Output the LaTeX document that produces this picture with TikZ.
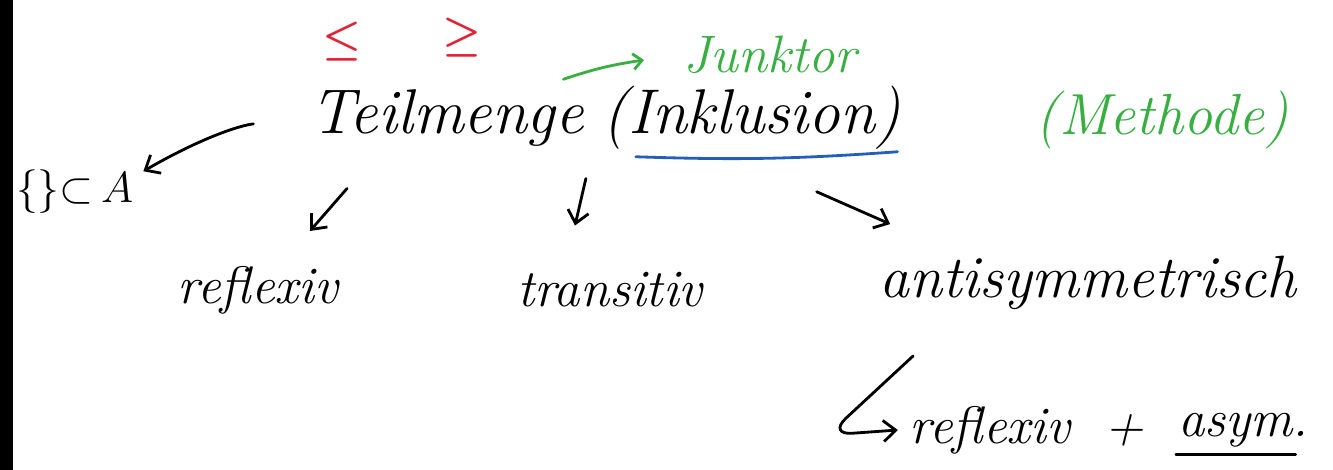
\documentclass[tikz,border=0pt]{standalone}
\usepackage{amsmath}
\usepackage{xcolor}
\usepackage{tikz}
\usetikzlibrary{arrows.meta, positioning}

\definecolor{inkred}{RGB}{225,35,55}
\definecolor{inkgreen}{RGB}{55,175,65}
\definecolor{inkblue}{RGB}{35,95,185}

\begin{document}
\begin{tikzpicture}[
      x=0.02cm, y=-0.02cm,
      every node/.style={inner sep=1pt, font=\itshape\fontsize{30}{36}\selectfont},
      big/.style={font=\itshape\fontsize{36}{42}\selectfont},
      sign/.style={text=inkred, font=\fontsize{48}{56}\selectfont\boldmath},
      hand/.style={line width=1.6pt, line cap=round},
      pen/.style={hand, -{Straight Barb[length=7pt, width=12pt]}}
    ]
      \useasboundingbox (0,0) rectangle (1333,470);

      \node[big] (teil) at (447,118) {Teilmenge};
      \node[big, right=0.3cm of teil] (inkl) {(Inklusion)};
      \node[sign] (leq) at (342,42) {$\leq$};
      \node[sign] (geq) at (462,38) {$\geq$};
      \node[text=inkgreen] (junk) at (770,55) {Junktor};
      \node[text=inkgreen, font=\itshape\fontsize{33}{40}\selectfont] (meth) at (1162,120) {(Methode)};
      \node[anchor=west, font=\fontsize{23}{28}\selectfont] (sub) at (14,192) {$\{\}{\subset}\,A$};

      \node (refl) at (258,290) {reflexiv};
      \node (trans) at (610,290) {transitiv};
      \node[font=\itshape\fontsize{34}{40}\selectfont] (anti) at (1088,283) {antisymmetrisch};
      \node (refl2) at (990,430) {reflexiv};
      \node[right=0.6cm of refl2] (plus) {+};
      \node[right=0.6cm of plus] (asym) {asym.};

      % arrows from the main term
      \draw[pen, shorten <=1.1cm, shorten >=2pt] (teil.west) to[bend right=12] ([xshift=0.1cm, yshift=-0.1cm]sub.north east);
      \draw[pen] ([xshift=-2cm, yshift=-0.8cm]teil.south) -- ([xshift=1.04cm, yshift=0.66cm]refl.north);
      \draw[pen] ([yshift=-0.6cm]teil.south east) -- ([xshift=-0.7cm, yshift=0.9cm]trans.north);
      \draw[pen] ([xshift=1.3cm, yshift=-0.8cm]inkl.south) -- ([xshift=0.26cm, yshift=0.6cm]anti.north west);
      \draw[pen, rounded corners=14pt] ([xshift=0.72cm, yshift=-0.88cm]anti.south west)
        -- ([xshift=-1.6cm, yshift=-0.1cm]refl2.west) -- ([xshift=-0.2cm]refl2.west);

      % green note and underlines
      \draw[pen, inkgreen, -{Straight Barb[length=5pt, width=9pt]}] ([xshift=-0.75cm, yshift=0.1cm]inkl.north west) to[bend left=5] ([xshift=-0.75cm, yshift=-0.1cm]junk.west);
      \draw[hand, inkblue] ([xshift=0.7cm, yshift=-0.1cm]inkl.south west) to[bend right=3] ([xshift=-0.1cm]inkl.south east);
      \draw[hand] ([yshift=-0.1cm]asym.south west) -- ([xshift=-0.3cm, yshift=-0.1cm]asym.south east);

      \fill[black] (0,0) rectangle (13,470);
    \end{tikzpicture}
\end{document}
